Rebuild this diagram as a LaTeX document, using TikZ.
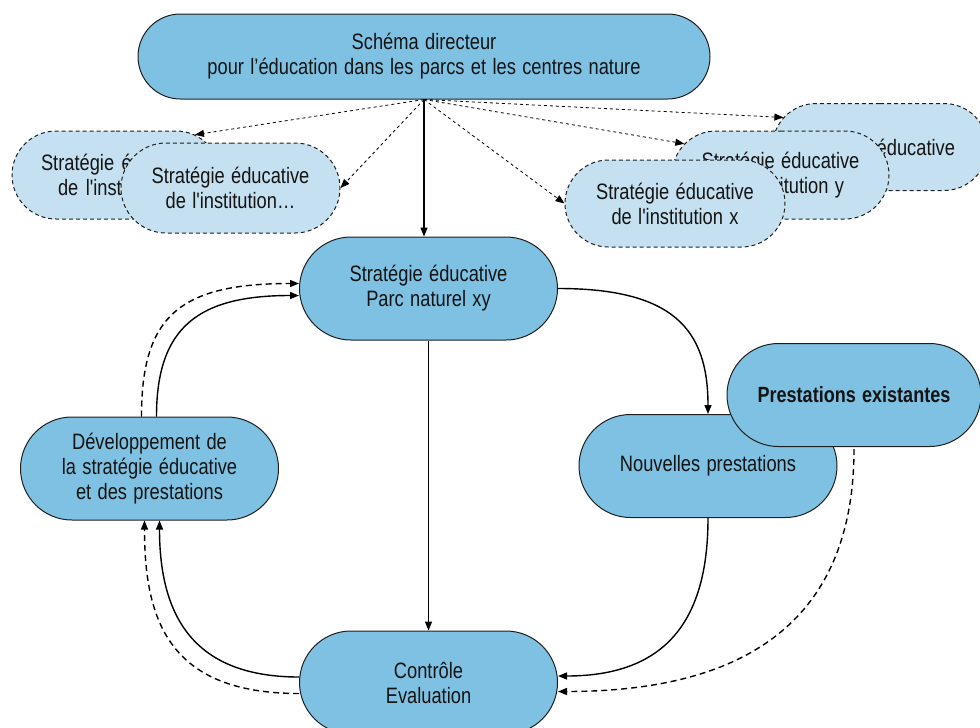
\documentclass[tikz,border=0pt]{standalone}
\usepackage{fontspec}
\setmainfont{Liberation Sans}[FakeStretch=0.82, Ligatures=TeXOff, WordSpace=1.25]
\usetikzlibrary{shapes.misc,arrows.meta,calc}
\definecolor{boxblue}{HTML}{7FC1E2}
\definecolor{lightblue}{HTML}{C5E1F1}
\definecolor{edgecol}{HTML}{1E1E1E}
\definecolor{txt}{HTML}{141414}
\begin{document}
\begin{tikzpicture}[x=1pt,y=-1pt,
  box/.style={rounded rectangle, draw=edgecol, line width=1pt, fill=boxblue,
    minimum width=258pt, minimum height=103pt, inner sep=0pt, align=center,
    font=\fontsize{22.3}{25}\selectfont, text=txt},
  inst/.style={box, fill=lightblue, dash pattern=on 4pt off 3pt},
  flow/.style={line width=1.4pt, draw=black, -{Triangle[length=9pt,width=7pt]}},
  flowd/.style={flow, dash pattern=on 6pt off 4pt},
  dotarr/.style={line width=0.8pt, draw=black, dash pattern=on 3pt off 3pt, -{Triangle[length=9pt,width=7pt]}}]
\useasboundingbox (0,0) rectangle (980,728);

% top node
\node[box, minimum width=572pt, minimum height=85pt] (sd) at (424,56.5)
  {Schéma directeur\\pour l’éducation dans les parcs et les centres nature};

% institution nodes (left); only the visible part of the back text is set
\node[inst, minimum width=208pt, minimum height=88pt, text width=150pt, align=left] (i1) at (116,175)
  {Stratégie éd\\\hspace*{17pt}de l'insti};
\node[inst, minimum width=219pt, minimum height=90pt] (i2) at (230.5,188)
  {Stratégie éducative\\de l'institution…};

% institution nodes (right)
\node[inst, minimum width=215pt, minimum height=87pt, text width=150pt, align=right] (iz) at (880,147)
  {éducative};
\node[inst, minimum width=217pt, minimum height=88pt] (iy) at (780.5,175)
  {Stratégie éducative\\de l'institution y};
\node[inst, minimum width=220pt, minimum height=87pt] (ix) at (675,203.5)
  {Stratégie éducative\\de l'institution x};

% main cycle
\node[box] (ctr) at (428.5,288.5) {Stratégie éducative\\Parc naturel xy};
\node[box] (dev) at (149.5,468.5) {Développement de\\la stratégie éducative\\et des prestations};
\node[box] (nouv) at (708,466) {Nouvelles prestations};
\node[box, minimum width=254pt, font=\fontsize{22}{25}\selectfont\bfseries] (pe) at (854,395) {Prestations existantes};
\node[box] (ce) at (428.5,682.5) {Contrôle\\Evaluation};

% dotted arrows from the master plan
\draw[dotarr] (sd.south) -- (i1.27);
\draw[dotarr] (sd.south) -- (i2.east);
\draw[dotarr] (sd.south) -- (ix.west);
\draw[dotarr] (sd.south) -- (iy.162);
\draw[dotarr] (sd.south) -- (iz.163);

% solid main flows
\draw[flow] (sd.south) -- (sd.south |- ctr.north);
\draw[flow] (ctr.south) -- (ce.north);
\draw[flow] (ctr.east) .. controls +(115,0) and +(0,-85) .. (nouv.north);
\draw[flow] (nouv.south) .. controls +(0,100) and +(110,0) .. ($(ce.east)+(0,-6.5)$);
\draw[flowd] ($(pe.south)+(0,2)$) .. controls +(0,170) and +(190,0) .. ($(ce.east)+(0,9)$);

% left loop
\draw[flow] ($(ce.west)+(0,-5.5)$) .. controls +(-110,0) and +(0,90) .. ($(dev.south)+(10,0)$);
\draw[flowd] ($(ce.west)+(0,11)$) .. controls +(-130,0) and +(0,100) .. ($(dev.south)+(-5,0)$);
\draw[flow] ($(dev.north)+(7,0)$) .. controls +(0,-90) and +(-100,0) .. ($(ctr.west)+(0,7)$);
\draw[flowd] ($(dev.north)+(-8,0)$) .. controls +(0,-100) and +(-120,0) .. ($(ctr.west)+(0,-5)$);
\end{tikzpicture}
\end{document}
